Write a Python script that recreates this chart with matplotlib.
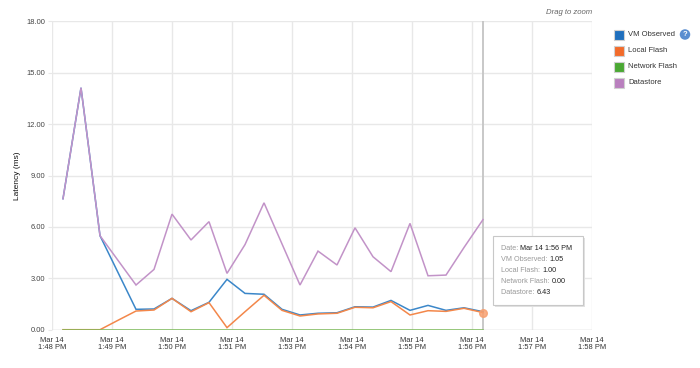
import matplotlib
matplotlib.use('Agg')
import matplotlib.pyplot as plt
from matplotlib.patches import Rectangle, Ellipse

plt.rcParams['font.family'] = ['Liberation Sans', 'DejaVu Sans']

# sample times, seconds after 1:48 PM
t_sec = [11, 29, 48, 66, 84, 102, 120, 139, 157, 175, 193, 212,
         230, 248, 266, 285, 303, 321, 339, 358, 376, 394, 412, 431]

vm_observed = [7.65, 14.13, 5.49, 3.34, 1.19, 1.21, 1.83, 1.11, 1.60, 2.94, 2.12, 2.07,
               1.19, 0.86, 0.96, 0.99, 1.34, 1.32, 1.71, 1.13, 1.42, 1.13, 1.28, 1.05]
local_flash = [0.00, 0.00, 0.00, 0.55, 1.09, 1.15, 1.83, 1.05, 1.58, 0.12, 1.05, 2.01,
               1.13, 0.80, 0.92, 0.96, 1.31, 1.28, 1.64, 0.86, 1.11, 1.07, 1.25, 1.00]
network_flash = [0.0] * 24
datastore = [7.65, 14.13, 5.49, 4.05, 2.61, 3.52, 6.75, 5.24, 6.31, 3.29, 4.97, 7.41,
             5.01, 2.61, 4.59, 3.78, 5.95, 4.26, 3.39, 6.21, 3.15, 3.19, 4.80, 6.43]

series_names = ['VM Observed', 'Local Flash', 'Network Flash', 'Datastore']
line_colors = ['#3b87c9', '#f3874a', '#7dbb5a', '#c293c8']
legend_colors = ['#1f6fbd', '#f26b2a', '#4aa833', '#b97fbe']

tick_sec = [0, 60, 120, 180, 240, 300, 360, 420, 480, 540]
tick_labels = ['Mar 14\n1:48 PM', 'Mar 14\n1:49 PM', 'Mar 14\n1:50 PM', 'Mar 14\n1:51 PM',
               'Mar 14\n1:53 PM', 'Mar 14\n1:54 PM', 'Mar 14\n1:55 PM', 'Mar 14\n1:56 PM',
               'Mar 14\n1:57 PM', 'Mar 14\n1:58 PM']
y_ticks = [0, 3, 6, 9, 12, 15, 18]

hover_date = 'Mar 14 1:56 PM'

W, H = 700, 368
fig = plt.figure(figsize=(7, 3.68), dpi=100)
ax = fig.add_axes([52 / W, 1 - 329.7 / H, 540 / W, 308.2 / H])

all_series = [vm_observed, local_flash, network_flash, datastore]
for vals, c in zip(all_series, line_colors):
    ax.plot(t_sec, vals, color=c, linewidth=1.1, solid_joinstyle='miter', zorder=3)

ax.set_xlim(0, 540)
ax.set_ylim(0, 18)
ax.set_xticks(tick_sec)
ax.set_xticklabels(tick_labels, fontsize=5.4, color='#333333', linespacing=1.15)
ax.set_yticks(y_ticks)
ax.set_yticklabels(['%.2f' % v for v in y_ticks], fontsize=5.4, color='#444444')
ax.grid(True, color='#e8e8e8', linewidth=1)
ax.set_axisbelow(True)
for s in ax.spines.values():
    s.set_visible(False)
ax.tick_params(axis='y', length=3, color='#e8e8e8', pad=2)
ax.tick_params(axis='x', length=0, pad=5)
ax.axhline(0, color='#dddddd', linewidth=1, zorder=1)
ax.set_ylabel('Latency (ms)', fontsize=6, color='#111111', labelpad=4)

# hover crosshair + marker
ax.axvline(t_sec[-1], color='#c8c8c8', linewidth=1.4, zorder=2)
ax.plot([t_sec[-1]], [local_flash[-1]], 'o', color='#f7a070', markersize=5.5, alpha=0.85, zorder=4)

fig.text(592 / W, 1 - 13 / H, 'Drag to zoom', fontsize=5.6, style='italic',
         color='#666666', ha='right', va='center')

# legend
for i, (name, c) in enumerate(zip(series_names, legend_colors)):
    yc = 34.7 + i * 16.1
    fig.patches.append(Rectangle((614 / W, 1 - (yc + 5) / H), 10 / W, 10 / H,
                                 transform=fig.transFigure, facecolor=c,
                                 edgecolor='#d0d0d0', linewidth=0.8))
    fig.text(628 / W, 1 - yc / H, name, fontsize=5.5, color='#333333', va='center')
fig.patches.append(Ellipse((685 / W, 1 - 34.5 / H), 10.5 / W, 10.5 / H, transform=fig.transFigure,
                           facecolor='#5b8ed0', edgecolor='none'))
fig.text(685 / W, 1 - 34.8 / H, '?', fontsize=5.5, color='white', weight='bold',
         ha='center', va='center')

# tooltip
fig.patches.append(Rectangle((495 / W, 1 - 307 / H), 90 / W, 69 / H, transform=fig.transFigure,
                             facecolor='#e2e2e2', edgecolor='none', zorder=5))
fig.patches.append(Rectangle((493 / W, 1 - 305 / H), 90 / W, 69 / H, transform=fig.transFigure,
                             facecolor='white', edgecolor='#c8c8c8', linewidth=0.8, zorder=6))
rows = [('Date: ', hover_date)]
for name, vals in zip(series_names, all_series):
    rows.append((name + ': ', '%.2f' % vals[-1]))
fig.canvas.draw()
renderer = fig.canvas.get_renderer()
for i, (lab, val) in enumerate(rows):
    yy = 1 - (248 + i * 11.2) / H
    t = fig.text(501 / W, yy, lab, fontsize=5.2, color='#999999', va='center', zorder=7)
    ext = t.get_window_extent(renderer)
    fig.text(ext.x1 / W, yy, val, fontsize=5.2, color='#222222', va='center', zorder=7)

fig.savefig('out.png', dpi=100)
